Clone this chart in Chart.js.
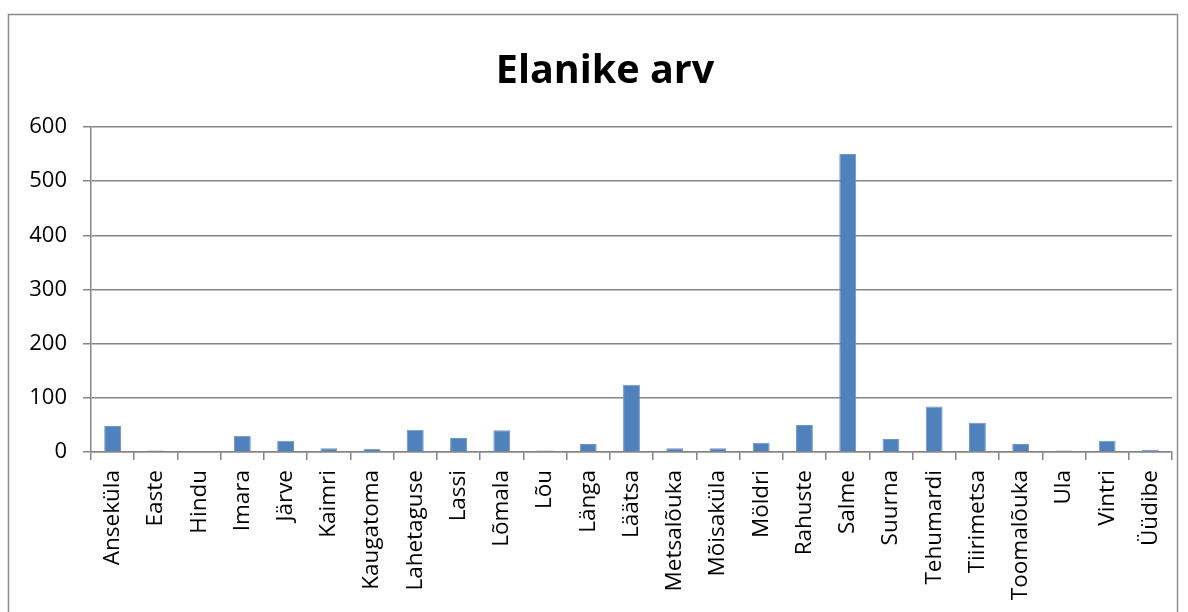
<!DOCTYPE html>
<html>
<head>
<meta charset="utf-8">
<script src="https://cdn.jsdelivr.net/npm/chart.js@4"></script>
<style>
  html, body { margin: 0; padding: 0; background: #fff; }
  #wrap { width: 1188px; height: 612px; position: relative; }
</style>
</head>
<body>
<div id="wrap"><canvas id="chart" width="1188" height="612"></canvas></div>
<script>
// Elanike arv küla kaupa
const villages = ['Anseküla', 'Easte', 'Hindu', 'Imara', 'Järve', 'Kaimri', 'Kaugatoma', 'Lahetaguse',
  'Lassi', 'Lõmala', 'Lõu', 'Länga', 'Läätsa', 'Metsalõuka', 'Mõisaküla', 'Möldri', 'Rahuste',
  'Salme', 'Suurna', 'Tehumardi', 'Tiirimetsa', 'Toomalõuka', 'Ula', 'Vintri', 'Üüdibe'];
const residents = [48, 3, 0, 30, 21, 7, 6, 41, 26, 40, 3, 15, 124, 7, 7, 17, 50, 550, 24, 84, 54, 15, 3, 21, 4];
const yTicks = [0, 100, 200, 300, 400, 500, 600];

const gridColor = '#868686';

// valge taust + hall raam ümber diagrammi
const frame = {
  id: 'frame',
  afterLayout(chart) {
    // pealkiri originaalis kogu raami keskel, mitte joonise kohal
    if (chart.titleBlock) {
      chart.titleBlock.left = 38;
      chart.titleBlock.right = 1172;
    }
  },
  beforeDraw(chart) {
    const c = chart.ctx;
    c.save();
    c.fillStyle = '#fff';
    c.fillRect(0, 0, chart.width, chart.height);
    c.strokeStyle = '#8c8c8c';
    c.lineWidth = 1.5;
    c.strokeRect(8.5, 14.5, 1169, 640);
    c.restore();
  }
};

new Chart(document.getElementById('chart'), {
  type: 'bar',
  data: {
    labels: villages,
    datasets: [{
      label: 'Elanike arv',
      data: residents,
      backgroundColor: '#4f81bd',
      borderColor: '#6f97c9',
      borderWidth: 1,
      barPercentage: 0.39,
      categoryPercentage: 1
    }]
  },
  options: {
    responsive: false,
    animation: false,
    layout: { padding: { top: 47, right: 16, left: 0, bottom: 0 } },
    plugins: {
      legend: { display: false },
      tooltip: { enabled: false },
      title: {
        display: true,
        text: 'Elanike arv',
        color: '#000',
        font: { family: "'Open Sans'", size: 39.5, weight: 'bold', lineHeight: 1.2 },
        padding: { top: 1, bottom: 31.6 }
      }
    },
    scales: {
      x: {
        grid: { display: true, drawOnChartArea: false, color: gridColor, tickLength: 8, lineWidth: 1.5, offset: true },
        border: { color: gridColor, width: 1.5 },
        ticks: {
          color: '#000',
          font: { family: "'Open Sans'", size: 22.5 },
          minRotation: 90, maxRotation: 90,
          autoSkip: false,
          padding: 10
        },
        afterFit(scale) { scale.height = 160; }
      },
      y: {
        min: 0, max: 600,
        afterBuildTicks(scale) { scale.ticks = yTicks.map(v => ({ value: v })); },
        grid: { color: gridColor, tickLength: 8, lineWidth: 1.5 },
        border: { color: gridColor, width: 1.5 },
        ticks: {
          color: '#000',
          font: { family: "'Open Sans'", size: 22 },
          padding: 16
        },
        afterFit(scale) { scale.width = 91; }
      }
    }
  },
  plugins: [frame]
});
</script>
</body>
</html>
